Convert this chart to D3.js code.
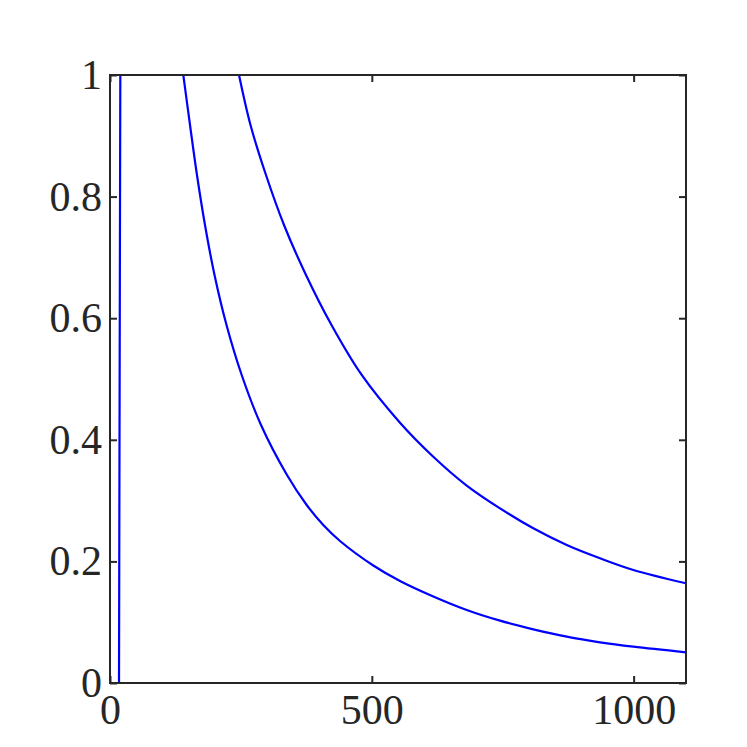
<!DOCTYPE html>
<html>
<head>
<meta charset="utf-8">
<script src="https://cdn.jsdelivr.net/npm/d3@7"></script>
<style>
  html, body { margin: 0; padding: 0; background: #ffffff; }
  svg { display: block; }
</style>
</head>
<body>
<div id="chart"></div>
<script>
// ---- data ----
const xTicks = [0, 500, 1000];
const yTicks = [0, 0.2, 0.4, 0.6, 0.8, 1];
const xTickLabels = ["0", "500", "1000"];
const yTickLabels = ["0", "0.2", "0.4", "0.6", "0.8", "1"];

const curve1X = [17.2, 18.0, 18.8, 19.7];
const curve1Y = [0, 0.33, 0.66, 1.0];

const curve2X = [140.0, 152.8, 166.1, 181.4, 199.6, 222.5, 251.5, 288.4, 338.0, 375.6, 407.3, 439.2, 502.8, 553.8, 617.4, 681.2, 744.8, 808.4, 872.2, 935.8, 999.4, 1100];
const curve2Y = [1.0, 0.9178, 0.8355, 0.7533, 0.6711, 0.5888, 0.5066, 0.4243, 0.3421, 0.2928, 0.2599, 0.2336, 0.1933, 0.1678, 0.1423, 0.1201, 0.1025, 0.0883, 0.0762, 0.0669, 0.0597, 0.0505];

const curve3X = [246.4, 268.3, 297.9, 332.3, 374.3, 423.0, 480.7, 553.8, 617.4, 681.2, 744.8, 808.4, 872.2, 935.8, 999.4, 1100];
const curve3Y = [1.0, 0.9178, 0.8355, 0.7533, 0.6711, 0.5888, 0.5066, 0.4281, 0.3722, 0.3248, 0.2873, 0.2544, 0.2270, 0.2051, 0.1859, 0.1640];

const series = [
  { x: curve1X, y: curve1Y },
  { x: curve2X, y: curve2Y },
  { x: curve3X, y: curve3Y }
];

// ---- layout ----
const W = 747, H = 747;
const mLeft = 110, mRight = 686, mTop = 75, mBottom = 683;
const axisColor = "#262626";
const fontFamily = "'Liberation Serif', 'DejaVu Serif', serif";
const fontSize = 42;

const svg = d3.select("#chart").append("svg")
  .attr("width", W).attr("height", H);

const x = d3.scaleLinear().domain([0, 1100]).range([mLeft, mRight]);
const y = d3.scaleLinear().domain([0, 1]).range([mBottom, mTop]);

svg.append("defs").append("clipPath").attr("id", "clip")
  .append("rect")
  .attr("x", mLeft).attr("y", mTop)
  .attr("width", mRight - mLeft).attr("height", mBottom - mTop);

// curves
const line = d3.line()
  .x(d => x(d[0]))
  .y(d => y(d[1]))
  .curve(d3.curveCatmullRom.alpha(0.5));

const g = svg.append("g").attr("clip-path", "url(#clip)");
series.forEach(s => {
  const pts = s.x.map((v, i) => [v, s.y[i]]);
  g.append("path")
    .datum(pts)
    .attr("d", line)
    .attr("fill", "none")
    .attr("stroke", "#0000ff")
    .attr("stroke-width", 2.2);
});

// axes
const tickLen = 7;
function styleAxis(sel) {
  sel.select(".domain").remove();
  sel.selectAll(".tick line").attr("stroke", axisColor).attr("stroke-width", 2);
  sel.selectAll(".tick text")
    .attr("fill", axisColor)
    .style("font-family", fontFamily)
    .style("font-size", fontSize + "px");
}

const xAxis = svg.append("g")
  .attr("transform", `translate(0,${mBottom})`)
  .call(d3.axisBottom(x).tickValues(xTicks)
    .tickFormat((d, i) => xTickLabels[i])
    .tickSize(-tickLen).tickPadding(11));
styleAxis(xAxis);
xAxis.selectAll(".tick text").attr("dy", "0.71em");

const yAxis = svg.append("g")
  .attr("transform", `translate(${mLeft},0)`)
  .call(d3.axisLeft(y).tickValues(yTicks)
    .tickFormat((d, i) => yTickLabels[i])
    .tickSize(-tickLen).tickPadding(8));
styleAxis(yAxis);

const topAxis = svg.append("g")
  .attr("transform", `translate(0,${mTop})`)
  .call(d3.axisTop(x).tickValues(xTicks).tickFormat("").tickSize(-tickLen));
styleAxis(topAxis);

const rightAxis = svg.append("g")
  .attr("transform", `translate(${mRight},0)`)
  .call(d3.axisRight(y).tickValues(yTicks).tickFormat("").tickSize(-tickLen));
styleAxis(rightAxis);

// box
svg.append("rect")
  .attr("x", mLeft).attr("y", mTop)
  .attr("width", mRight - mLeft).attr("height", mBottom - mTop)
  .attr("fill", "none")
  .attr("stroke", axisColor)
  .attr("stroke-width", 2);
</script>
</body>
</html>
